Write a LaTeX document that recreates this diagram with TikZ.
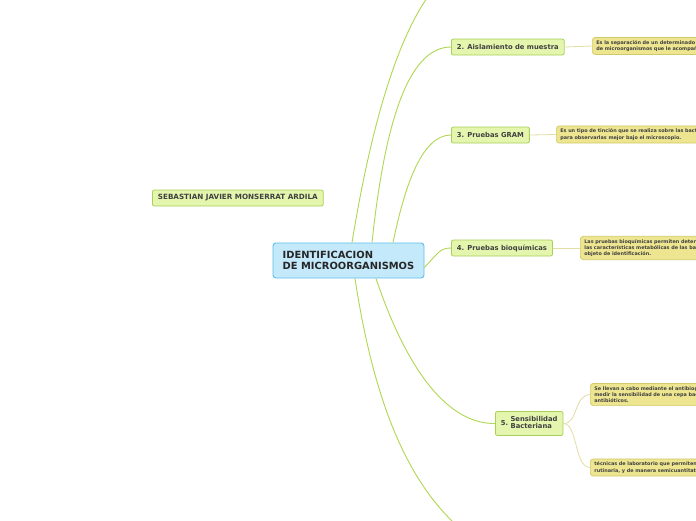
\documentclass[tikz,border=0pt]{standalone}
\usepackage{fontspec}
\setmainfont{DejaVu Sans}
\definecolor{branchgreen}{HTML}{B0D752}
\definecolor{topicfill}{HTML}{E4F6AE}
\definecolor{topicline}{HTML}{A9D15A}
\definecolor{rootfill}{HTML}{C4E9FA}
\definecolor{rootline}{HTML}{5CC0EC}
\definecolor{notefill}{HTML}{EDE590}
\definecolor{noteline}{HTML}{D2CA6A}
\definecolor{notelink}{HTML}{E2DDA4}
\begin{document}
\begin{tikzpicture}[x=1pt,y=-1pt,
  root/.style={draw=rootline,fill=rootfill,line width=0.9pt,rounded corners=3pt,
    minimum width=151pt,minimum height=35pt,align=left,
    font=\fontsize{9.9}{10.4}\selectfont\bfseries,text=black!85},
  topic/.style={draw=topicline,fill=topicfill,line width=0.8pt,rounded corners=2pt,
    anchor=west,minimum height=16pt,inner xsep=5.5pt,inner ysep=1pt,
    font=\fontsize{6.8}{7.4}\selectfont\bfseries,text=black!75},
  note/.style={draw=noteline,fill=notefill,line width=0.7pt,rounded corners=3pt,
    anchor=west,align=left,inner xsep=4pt,inner ysep=3pt,text width=260pt,
    font=\fontsize{4.9}{6.2}\selectfont\bfseries,text=black!75},
  branch/.style={draw=branchgreen,line width=0.9pt},
  link/.style={draw=notelink,line width=0.8pt}]
  \useasboundingbox (0,0) rectangle (696,520);
  \clip (0,0) rectangle (696,520);
  \fill[white] (0,0) rectangle (696,520);

  \node[root] (root) at (348.5,260.5) {IDENTIFICACION\\DE MICROORGANISMOS};
  \node[topic,font=\fontsize{7.2}{8}\selectfont\bfseries] (author) at (152,198) {SEBASTIAN JAVIER MONSERRAT ARDILA};

  \node[topic] (aislamiento) at (451,47) {2. Aislamiento de muestra};
  \node[topic] (gram) at (451,135) {3. Pruebas GRAM};
  \node[topic] (bioquimicas) at (451,248) {4. Pruebas bioquímicas};
  \node[topic,minimum height=24pt] (sensibilidad) at (495,423.5)
    {5.~\begin{tabular}{@{}l@{}}Sensibilidad\\[-0.5pt]Bacteriana\end{tabular}};

  \coordinate (uno) at (427,-2);
  \coordinate (seis) at (453,522);

  \node[note] (nota2) at (592,46) {Es la separación de un determinado grupo\\de microorganismos que le acompañan};
  \node[note] (nota3) at (556,134.5) {Es un tipo de tinción que se realiza sobre las bacterias\\para observarlas mejor bajo el microscopio.};
  \node[note] (nota4) at (580,248) {Las pruebas bioquímicas permiten determinar\\las características metabólicas de las bacterias\\objeto de identificación.};
  \node[note] (nota5a) at (590,394.5) {Se llevan a cabo mediante el antibiograma\\medir la sensibilidad de una cepa bacteriana\\antibióticos.};
  \node[note] (nota5b) at (590,467.5) {técnicas de laboratorio que permiten\\rutinaria, y de manera semicuantitativa};

  % ramas principales
  \draw[branch] ([xshift=3.5pt]root.north) .. controls (372,120) and (398,40) .. (uno);
  \draw[branch] ([xshift=23.5pt]root.north) .. controls (386,110) and (412,47) .. (aislamiento.west);
  \draw[branch] ([xshift=44.5pt]root.north) .. controls (405,185) and (422,135) .. (gram.west);
  \draw[branch] ([yshift=-7pt]root.east) .. controls (438,253) and (440,248) .. (bioquimicas.west);
  \draw[branch] ([xshift=27.5pt]root.south) .. controls (412,385) and (455,424) .. (sensibilidad.west);
  \draw[branch] ([xshift=6.5pt]root.south) .. controls (375,410) and (410,480) .. (seis);

  % notas
  \draw[link] (aislamiento.east) -- (nota2.west);
  \draw[link] (gram.east) -- (nota3.west);
  \draw[link] (bioquimicas.east) -- (nota4.west);
  \draw[link] (sensibilidad.east) .. controls (578,424) and (574,395) .. (nota5a.west);
  \draw[link] (sensibilidad.east) .. controls (578,424) and (574,467) .. (nota5b.west);
\end{tikzpicture}
\end{document}
